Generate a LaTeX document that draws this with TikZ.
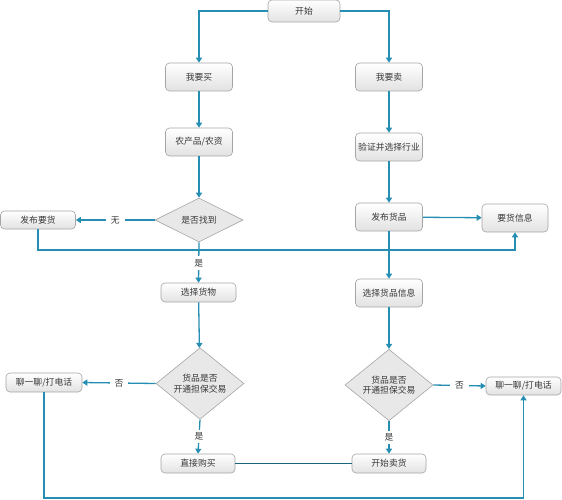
\documentclass[tikz,border=0pt]{standalone}
\usepackage{fontspec}
\setmainfont{Noto Sans CJK SC}
\usetikzlibrary{shapes.geometric,arrows.meta}
\definecolor{lc}{RGB}{38,142,178}
\definecolor{bd}{RGB}{165,165,165}
\definecolor{boxb}{RGB}{226,226,226}
\definecolor{dfill}{RGB}{232,232,232}
\definecolor{txt}{RGB}{55,55,55}
\begin{document}
\begin{tikzpicture}[x=1pt,y=-1pt,
  box/.style={draw=bd, line width=0.6pt, rounded corners=4pt, top color=white, bottom color=boxb,
    inner sep=0pt, font=\fontsize{8.8}{10}\selectfont, text=txt},
  dia/.style={diamond, draw=bd, line width=0.6pt, fill=dfill, inner sep=0pt,
    minimum width=88pt, minimum height=44pt, align=center,
    font=\fontsize{8.8}{10.5}\selectfont, text=txt},
  arr/.style={draw=lc, line width=1.3pt, -{Triangle[length=5pt,width=6pt]}},
  ln/.style={draw=lc!70!black, line width=0.9pt},
  lab/.style={fill=white, inner xsep=5pt, inner ysep=3pt, font=\fontsize{8.8}{10}\selectfont, text=txt}]
\useasboundingbox (0,0) rectangle (562,500);

% nodes
\node[box, minimum width=72pt, minimum height=22pt] (start) at (304,11) {开始};
\node[box, minimum width=67pt, minimum height=28pt] (buy) at (199,77) {我要买};
\node[box, minimum width=67pt, minimum height=28pt] (sell) at (389,77) {我要卖};
\node[box, minimum width=67pt, minimum height=28pt] (farm) at (199,142) {农产品/农资};
\node[box, minimum width=67pt, minimum height=28pt] (verify) at (389,147) {验证并选择行业};
\node[dia] (found) at (199,220) {是否找到};
\node[box, minimum width=75pt, minimum height=18pt] (postneed) at (38,220) {发布要货};
\node[box, minimum width=67pt, minimum height=28pt] (postgoods) at (389,217) {发布货品};
\node[box, minimum width=66pt, minimum height=28pt] (needinfo) at (515,218) {要货信息};
\node[box, minimum width=75pt, minimum height=19pt] (pickgoods) at (198.5,292.5) {选择货物};
\node[box, minimum width=67pt, minimum height=28pt] (pickinfo) at (389,293) {选择货品信息};
\node[dia] (d1) at (200,383.5) {货品是否\\开通担保交易};
\node[dia] (d2) at (389,385) {货品是否\\开通担保交易};
\node[box, minimum width=76pt, minimum height=19pt] (chat1) at (44,382.5) {聊一聊/打电话};
\node[box, minimum width=75pt, minimum height=18pt] (chat2) at (523.5,386) {聊一聊/打电话};
\node[box, minimum width=74pt, minimum height=19pt] (buynow) at (198,463.5) {直接购买};
\node[box, minimum width=74pt, minimum height=19pt] (startsell) at (389,463.5) {开始卖货};

\coordinate (hl) at (0,250);
\coordinate (bl) at (0,498);

% connectors
\draw[arr] (start.west) -| (buy.north);
\draw[arr] (start.east) -| (sell.north);
\draw[arr] (buy) -- (farm);
\draw[arr] (farm) -- (found);
\draw[arr] (sell) -- (verify);
\draw[arr] (verify) -- (postgoods);
\draw[arr] (postgoods) -- (needinfo);
\draw[arr] (postneed.south) -- (postneed.south |- hl) -| (needinfo.south);
\draw[arr] (found.west) -- node[lab] {无} (postneed.east);
\draw[arr] (found.south) -- node[lab, pos=0.52] {是} (pickgoods.north);
\draw[arr] (postgoods.south) -- (pickinfo.north);
\draw[arr] (pickgoods) -- (d1);
\draw[arr] (pickinfo) -- (d2);
\draw[arr] (d1.west) -- node[lab] {否} (chat1.east);
\draw[arr] (d1.south) -- node[lab] {是} (buynow.north);
\draw[arr] (d2.east) -- node[lab] {否} (chat2.west);
\draw[arr] (d2.south) -- node[lab] {是} (startsell.north);
\draw[arr] (chat1.south) -- (chat1.south |- bl) -| (chat2.south);
\draw[ln] (buynow.east) -- (startsell.west);
\end{tikzpicture}
\end{document}
